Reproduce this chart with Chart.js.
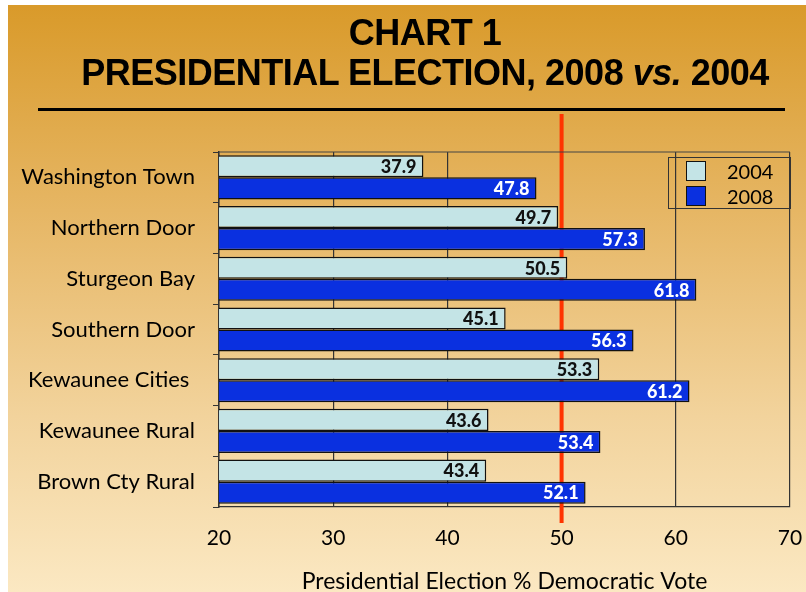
<!DOCTYPE html>
<html>
<head>
<meta charset="utf-8">
<script src="https://cdn.jsdelivr.net/npm/chart.js@4.4.1/dist/chart.umd.min.js"></script>
<style>
    html, body { margin: 0; padding: 0; background: #fff; }
    #wrap { position: relative; width: 806px; height: 592px; overflow: hidden; }
    #bg {
        position: absolute; left: 8px; top: 5px; right: 0; bottom: 0;
        background: linear-gradient(to bottom, #D99A2A 0%, #E6B664 35%, #F2D39C 70%, #FBE8C2 100%);
    }
    canvas { position: absolute; left: 0; top: 0; }
    .title {
        position: absolute; left: 0; width: 850px; text-align: center;
        font-family: "Liberation Sans Narrow", "Arial Narrow", Arial, sans-serif;
        font-weight: bold; font-size: 36px; line-height: 40px; color: #000;
        letter-spacing: -0.5px;
    }
    #rule { position: absolute; left: 38px; top: 108px; width: 747px; height: 3px; background: #000; }
    #legend {
        position: absolute; left: 668px; top: 157px; width: 121px; height: 50px;
        border: 1.5px solid #333; font-family: Lato, sans-serif; font-size: 20px;
    }
    .item { position: absolute; left: 17px; height: 21px; line-height: 21px; }
    .swatch { position: absolute; left: 0; top: 0; width: 18px; height: 18px; border: 1.5px solid #111; }
    .label { position: absolute; left: 41px; top: 0; }
</style>
</head>
<body>
<div id="wrap">
    <div id="bg"></div>
    <canvas id="electionChart" width="806" height="592"></canvas>
    <div class="title" style="top: 13px;">CHART 1</div>
    <div class="title" style="top: 53px;">PRESIDENTIAL ELECTION, 2008 <i>vs.</i> 2004</div>
    <div id="rule"></div>
    <div id="legend">
        <div class="item" style="top: 3px;"><div class="swatch" style="background:#C4E4E6"></div><span class="label">2004</span></div>
        <div class="item" style="top: 28px;"><div class="swatch" style="background:#0A30E0"></div><span class="label">2008</span></div>
    </div>
</div>
<script>
// Données
const regions = ['Washington Town', 'Northern Door', 'Sturgeon Bay', 'Southern Door', 'Kewaunee Cities ', 'Kewaunee Rural', 'Brown Cty Rural'];
const vote2004 = [37.9, 49.7, 50.5, 45.1, 53.3, 43.6, 43.4];
const vote2008 = [47.8, 57.3, 61.8, 56.3, 61.2, 53.4, 52.1];
const axisMin = 20;
const axisMax = 70;
const axisStep = 10;
const majorityLine = 50;

// Ligne rouge à 50 %, dessinée derrière les barres
const majorityPlugin = {
    id: 'majorityLine',
    beforeDatasetsDraw(chart) {
        const { ctx, chartArea, scales } = chart;
        const x = scales.x.getPixelForValue(majorityLine);
        ctx.save();
        ctx.strokeStyle = '#FF3300';
        ctx.lineWidth = 4;
        ctx.beginPath();
        ctx.moveTo(x, chartArea.top - 38);
        ctx.lineTo(x, chartArea.bottom + 16);
        ctx.stroke();
        ctx.restore();
    }
};

// Cadre du haut de la zone de tracé
const framePlugin = {
    id: 'frame',
    beforeDatasetsDraw(chart) {
        const { ctx, chartArea } = chart;
        ctx.save();
        ctx.strokeStyle = '#444';
        ctx.lineWidth = 1.2;
        ctx.beginPath();
        ctx.moveTo(chartArea.left, chartArea.top);
        ctx.lineTo(chartArea.right, chartArea.top);
        ctx.stroke();
        ctx.restore();
    }
};

// Valeurs à l'extrémité des barres
const valueLabelsPlugin = {
    id: 'valueLabels',
    afterDatasetsDraw(chart) {
        const { ctx } = chart;
        ctx.save();
        ctx.font = '900 18px Lato, sans-serif';
        ctx.textAlign = 'right';
        ctx.textBaseline = 'middle';
        chart.data.datasets.forEach((ds, i) => {
            ctx.fillStyle = i === 0 ? '#111' : '#fff';
            chart.getDatasetMeta(i).data.forEach((bar, j) => {
                ctx.fillText(ds.data[j].toFixed(1), bar.x - 7, bar.y + 1);
            });
        });
        ctx.restore();
    }
};

new Chart(document.getElementById('electionChart'), {
    type: 'bar',
    data: {
        labels: regions,
        datasets: [
            {
                label: '2004',
                data: vote2004,
                backgroundColor: '#C4E4E6',
                borderColor: '#111',
                borderWidth: 1.5,
                borderSkipped: false,
                categoryPercentage: 0.87,
                barPercentage: 1
            },
            {
                label: '2008',
                data: vote2008,
                backgroundColor: '#0A30E0',
                borderColor: '#111',
                borderWidth: 1.5,
                borderSkipped: false,
                categoryPercentage: 0.87,
                barPercentage: 1
            }
        ]
    },
    options: {
        indexAxis: 'y',
        responsive: false,
        animation: false,
        layout: { padding: { top: 152, right: 0, bottom: 0, left: 0 } },
        plugins: {
            legend: { display: false },
            tooltip: { enabled: false }
        },
        scales: {
            x: {
                min: axisMin,
                max: axisMax,
                ticks: {
                    stepSize: axisStep,
                    padding: 19,
                    color: '#000',
                    font: { family: 'Lato', size: 21 }
                },
                grid: { color: '#333', lineWidth: 1.2, drawTicks: false },
                border: { display: true, color: '#333', width: 1.2 },
                title: {
                    display: true,
                    text: 'Presidential Election % Democratic Vote',
                    color: '#000',
                    font: { family: 'Lato', size: 23, lineHeight: 1 },
                    padding: { top: 0, bottom: -1 }
                },
                afterFit(scale) {
                    scale.height = 85;
                    scale.paddingRight = 16;
                }
            },
            y: {
                ticks: {
                    padding: 18,
                    color: '#000',
                    font: { family: 'Lato', size: 22 }
                },
                grid: { drawOnChartArea: false, offset: true, tickLength: 6, color: '#333' },
                border: { display: true, color: '#333', width: 1.5 },
                afterFit(scale) { scale.width = 219; }
            }
        }
    },
    plugins: [majorityPlugin, framePlugin, valueLabelsPlugin]
});
</script>
</body>
</html>
